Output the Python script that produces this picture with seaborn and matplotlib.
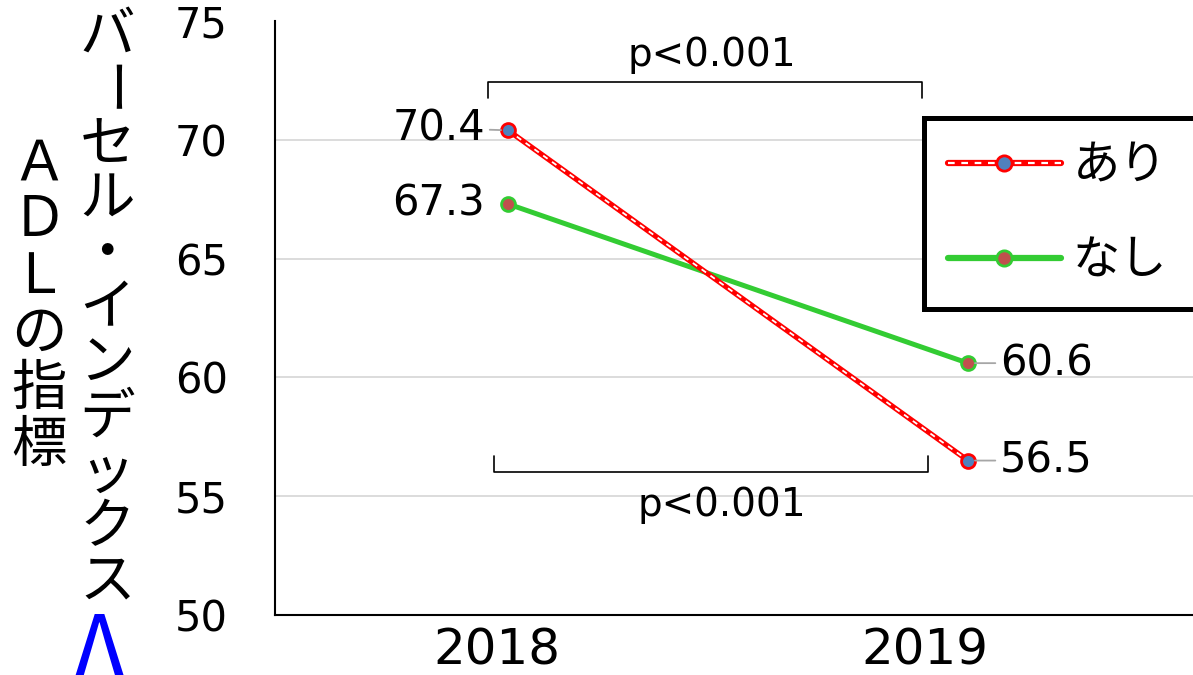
import pandas as pd
import numpy as np
import seaborn as sns
from matplotlib import pyplot as plt
from matplotlib.lines import Line2D
from matplotlib.legend_handler import HandlerTuple

# data
years = ['2018', '2019']
groups = ['あり', 'なし']
ari = [70.4, 56.5]
nashi = [67.3, 60.6]

df = pd.DataFrame({
    'pos': list(range(len(years))) * 2,
    'year': years * 2,
    'group': [groups[0]] * len(years) + [groups[1]] * len(years),
    'score': ari + nashi,
})

sns.set_theme(style='white')
plt.rcParams['font.family'] = ['Noto Sans CJK JP', 'DejaVu Sans']
plt.rcParams['text.color'] = 'black'
plt.rcParams['xtick.color'] = 'black'
plt.rcParams['ytick.color'] = 'black'

W, H = 1193, 675
fig = plt.figure(figsize=(W / 100, H / 100), dpi=100)
ax = fig.add_axes([275 / W, 60 / H, 1 - 275 / W, 594 / H])

RED, GREEN = '#ff0000', '#33cc33'
BLUE_FILL, RED_FILL = '#4f81bd', '#c0504d'

# grid
for yv in [55, 60, 65, 70]:
    ax.axhline(yv, color='#d9d9d9', lw=1.3, zorder=0)

g = df[df['group'] == 'なし']
r = df[df['group'] == 'あり']

# lines
sns.lineplot(data=g, x='pos', y='score', color=GREEN, lw=3.6, ax=ax, zorder=3)
sns.lineplot(data=r, x='pos', y='score', color=RED, lw=3.8, ax=ax, zorder=4)
sns.lineplot(data=r, x='pos', y='score', color='white', lw=1.3,
             linestyle=(0, (3, 3)), ax=ax, zorder=5)
# markers
sns.scatterplot(data=g, x='pos', y='score', s=100, color=RED_FILL,
                edgecolor=GREEN, linewidth=2, ax=ax, zorder=6)
sns.scatterplot(data=r, x='pos', y='score', s=100, color=BLUE_FILL,
                edgecolor=RED, linewidth=2, ax=ax, zorder=7)

# data labels
leader = dict(arrowstyle='-', color='#a6a6a6', lw=1.3, shrinkA=1, shrinkB=5)
for i, v in enumerate(ari):
    left = i == 0
    ax.annotate(f'{v:.1f}', (i, v), xytext=(-16.5 if left else 23, 1.5 if left else 0),
                textcoords='offset points', ha='right' if left else 'left', va='center',
                fontsize=30, family='DejaVu Sans', arrowprops=leader, zorder=8)
for i, v in enumerate(nashi):
    left = i == 0
    ax.annotate(f'{v:.1f}', (i, v), xytext=(-16.5 if left else 23, 0),
                textcoords='offset points', ha='right' if left else 'left', va='center',
                fontsize=30, family='DejaVu Sans',
                arrowprops=None if left else leader, zorder=8)

# significance brackets
ax.plot([-0.0435, -0.0435, 0.9, 0.9], [71.76, 72.43, 72.43, 71.76],
        color='black', lw=1.2, clip_on=False)
ax.text(0.443, 73.57, 'p<0.001', ha='center', va='center', fontsize=28,
        family='DejaVu Sans')
ax.plot([-0.030, -0.030, 0.913, 0.913], [56.69, 56.02, 56.02, 56.69],
        color='black', lw=1.2, clip_on=False)
ax.text(0.465, 54.63, 'p<0.001', ha='center', va='center', fontsize=28,
        family='DejaVu Sans')

# axes
ax.set_xlim(-0.5065, 1.489)
ax.set_ylim(50, 75)
ax.set_xticks([-0.024, 0.9065])
ax.set_xticklabels(years)
ax.set_yticks([50, 55, 60, 65, 70, 75])
ax.tick_params(axis='y', length=0, pad=34, labelsize=30)
ax.tick_params(axis='x', length=0, pad=8, labelsize=36)
for lab in ax.get_xticklabels() + ax.get_yticklabels():
    lab.set_family('DejaVu Sans')
ax.set_xlabel('')
ax.set_ylabel('')
sns.despine(ax=ax, top=True, right=True)
for s in ['left', 'bottom']:
    ax.spines[s].set_color('black')
    ax.spines[s].set_linewidth(1.5)

# legend
h_ari = (Line2D([], [], color=RED, lw=4.5),
         Line2D([], [], color='white', lw=1.6, ls=(0, (3, 3))),
         Line2D([], [], ls='none', marker='o', ms=11, mfc=BLUE_FILL, mec=RED, mew=2))
h_nashi = (Line2D([], [], color=GREEN, lw=4.5),
           Line2D([], [], ls='none', marker='o', ms=11, mfc=RED_FILL, mec=GREEN, mew=2))
leg = ax.legend([h_ari, h_nashi], groups, handler_map={tuple: HandlerTuple(ndivide=1)},
                loc='upper left', bbox_to_anchor=(924 / W, 1 - 118 / H, 0.26, 0),
                bbox_transform=fig.transFigure, mode='expand', borderaxespad=0,
                fontsize=34, handlelength=2.4, handletextpad=0.25, labelspacing=1.0,
                borderpad=0.5, frameon=True, fancybox=False, edgecolor='black',
                framealpha=1)
leg.get_frame().set_linewidth(3.6)
leg.set_zorder(10)

# vertical y-axis title, one character per row
col1 = 'バーセル・インデックス'
for i, ch in enumerate(col1):
    fig.text(107 / W, 1 - (36 + i * 54.6) / H, ch, ha='center', va='center',
             fontsize=40, rotation=-90 if ch == 'ー' else 0)
col2 = 'ＡＤＬの指標'
for i, ch in enumerate(col2):
    fig.text(39 / W, 1 - (164 + i * 56.4) / H, ch, ha='center', va='center',
             fontsize=40)
fig.text(99 / W, 1 - 609 / H, 'Λ', ha='center', va='top', fontsize=64,
         color='blue')

fig.savefig('out.png', dpi=100)
plt.close()
